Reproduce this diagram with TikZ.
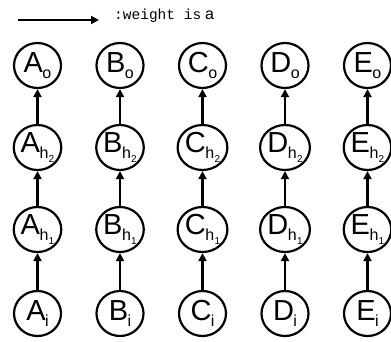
\documentclass[tikz,border=0pt]{standalone}
\usepackage{fontspec}
\setmainfont{Liberation Sans}
\setmonofont{Liberation Mono}
\usetikzlibrary{arrows.meta,shapes.geometric}
% big letter with a lowered index
\newcommand{\unitlab}[2]{{\fontsize{29}{29}\selectfont #1}\kern-0.5pt\raisebox{-6pt}{\fontsize{16}{16}\selectfont #2}}
\newcommand{\hsub}[1]{h\kern0.3pt\raisebox{-3.5pt}{\fontsize{10}{10}\selectfont #1}}
\begin{document}
\begin{tikzpicture}[x=1pt,y=-1pt,
  unit/.style={ellipse,draw,line width=2.2pt,minimum width=47pt,minimum height=45pt,inner sep=0pt},
  link/.style={line width=2.2pt,-{Triangle[length=8pt,width=8pt]}}]
\useasboundingbox (0,0) rectangle (391,341);
% legend
\coordinate (l0) at (18,20);
\coordinate (l1) at (99,20);
\draw[link] (l0) -- (l1);
\node[anchor=west,inner sep=0pt] (leg) at (114,16) {\fontsize{14.5}{14.5}\selectfont\ttfamily :weight is\kern4pt\rmfamily\fontsize{16}{16}\selectfont a};
% units
\foreach \c/\x in {A/37.5,B/120,C/202.5,D/285,E/367.5}{
  \node[unit] (\c o) at (\x,65.5) {\unitlab{\c}{o}};
  \node[unit] (\c h2) at (\x,147.5) {\unitlab{\c}{\hsub{2}}};
  \node[unit] (\c h1) at (\x,229.5) {\unitlab{\c}{\hsub{1}}};
  \node[unit] (\c i) at (\x,313.5) {\unitlab{\c}{i}};
  \draw[link] (\c i) -- (\c h1);
  \draw[link] (\c h1) -- (\c h2);
  \draw[link] (\c h2) -- (\c o);
}
\end{tikzpicture}
\end{document}
